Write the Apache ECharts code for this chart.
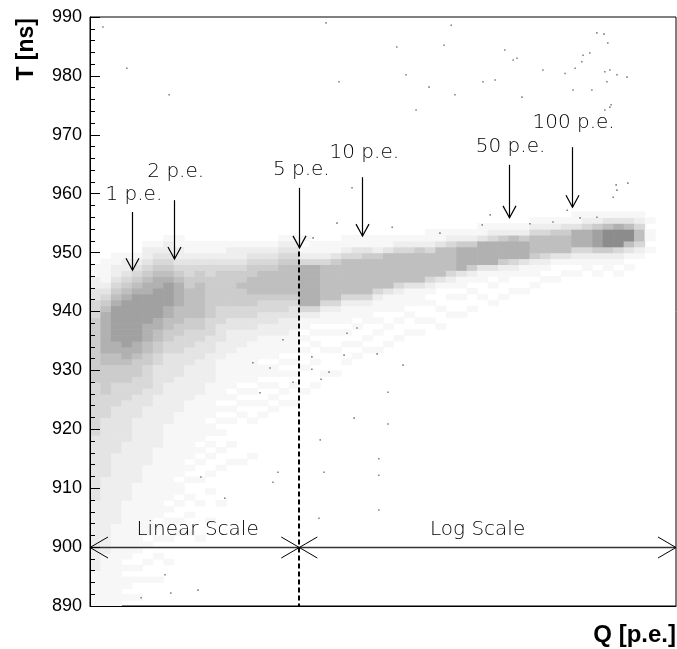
<!DOCTYPE html>
<html><head><meta charset="utf-8">
<script src="https://cdn.jsdelivr.net/npm/echarts@6/dist/echarts.min.js"></script>
<style>html,body{margin:0;padding:0;background:#fff}#c{width:677px;height:649px}</style>
</head><body><div id="c"></div>
<script>
// ---------------- data ----------------
var T_MIN = 890, T_MAX = 990, T_STEP = 10;          // T [ns]
var U_MAX = 14;      // display position: Q linear 0..5, then 5 units per decade
var COL_W = 0.25;    // width of one density column (display units)

// 2D density: one entry per column, [first T (ns), digits]
// each digit = relative dot density (0..9) in a 1-ns cell, going upward from first T
var DENSITY_COLS = [
  [890, "11111"+"1222222222"+"2223333333"+"3333444444"+"4445555555"+"5555444"+"332211"],
  [890, "1111111112"+"2222222222"+"2233333333"+"3344445555"+"5667777777"+"654321"+"1110"],
  [890, "1111111111"+"1111222222"+"2222223333"+"3333444455"+"5667788888"+"876543"+"2211"],
  [890, "0101101011"+"1111111122"+"2222222233"+"3333344455"+"5677888888"+"887654"+"3221"],
  [890, "0100101001"+"1111111111"+"1222222222"+"2233334445"+"5567788888"+"888765"+"4321"],
  [890, "0000100100"+"1011111111"+"1111222222"+"2222333444"+"4556677788"+"888776"+"5432"+"21"],
  [890, "0000100010"+"0101011111"+"1111111222"+"2222223333"+"3445566778"+"888877"+"6543"+"21"],
  [890, "0000000100"+"0100101011"+"1111111111"+"1222222233"+"3334455667"+"788887"+"6543"+"221"],
  [890, "0000000000"+"0010100101"+"1011111111"+"1112222223"+"3334445566"+"677776"+"5432"+"211"],
  [890, "0000000000"+"0010010010"+"0101011111"+"1111122222"+"2333444556"+"666655"+"4432"+"11"],
  [890, "0000000000"+"0100000100"+"0100101011"+"1111112222"+"2233344556"+"666665"+"5432"+"11"],
  [890, "0000000000"+"0000100001"+"0010010101"+"1011111122"+"2223334445"+"555555"+"4432"+"11"],
  [890, "0000000000"+"0000000100"+"0001001001"+"0101011111"+"1122233344"+"455555"+"5432"+"11"],
  [890, "0000000000"+"0000000000"+"0000100100"+"0101010111"+"1112222334"+"455555"+"5432"+"21"],
  [890, "0000000000"+"0000000000"+"0000100000"+"0010101011"+"1111222334"+"455565"+"5432"+"21"],
  [890, "0000000000"+"0000000000"+"0000010000"+"0100101011"+"1111122334"+"455666"+"5543"+"21"],
  [890, "0000000000"+"0000000000"+"0000000000"+"0010100101"+"1011112233"+"445666"+"6543"+"21"],
  [890, "0000000000"+"0000000000"+"0000000000"+"0001010101"+"1011112233"+"445666"+"6543"+"21"],
  [890, "0000000000"+"0000000000"+"0000000000"+"0000101001"+"0101112223"+"445666"+"6654"+"321"],
  [890, "0000000000"+"0000000000"+"0000000000"+"0000100101"+"0101111223"+"345666"+"6654"+"321"],
  [925, "0100010010101"+"124"+"7777777"+"42101"],
  [926, "010001001010"+"124"+"7777777"+"4211"],
  [927, "001000100101"+"124"+"666666"+"4211"],
  [928, "01000100101"+"124"+"666666"+"5311"],
  [930, "0100101011"+"124"+"666666"+"4211"],
  [930, "0010100101"+"124"+"666666"+"4311"],
  [930, "0001010011"+"124"+"666666"+"5311"],
  [932, "010010101"+"124"+"66666"+"5211"],
  [932, "001001001"+"113"+"666666"+"311"],
  [934, "01001011"+"124"+"66666"+"421"],
  [934, "00100101"+"113"+"66666"+"421"],
  [935, "0101001"+"113"+"66666"+"521"],
  [936, "0010010"+"124"+"6666"+"4211"],
  [936, "0100100"+"013"+"66666"+"311"],
  [937, "0010010"+"124"+"6666"+"421"],
  [938, "0100101"+"13"+"7777"+"521"],
  [939, "010010"+"125"+"777"+"521"],
  [940, "001001"+"13"+"7777"+"311"],
  [940, "010010"+"13"+"7777"+"421"],
  [941, "01001"+"125"+"777"+"521"],
  [941, "00100"+"124"+"777"+"621"],
  [942, "01001"+"13"+"777"+"521"],
  [943, "0101"+"125"+"666"+"421"],
  [943, "0010"+"124"+"666"+"421"],
  [944, "0100"+"13"+"666"+"521"],
  [944, "0010"+"13"+"666"+"531"],
  [945, "010"+"124"+"777"+"311"],
  [945, "001"+"124"+"777"+"421"],
  [945, "010"+"125"+"888"+"521"],
  [945, "001"+"125"+"999"+"631"],
  [945, "010"+"124"+"999"+"731"],
  [946, "010"+"136"+"99"+"631"],
  [946, "000"+"124"+"66"+"421"],
  [949, "0101101"]
];

// isolated dots: [display position, T]
var OUTLIERS = [
  [12.11,987.3],[12.28,987.1],[12.37,985.6],[11.94,983.9],[11.78,983.5],[12.42,981.0],[12.30,980.7],
  [12.59,980.2],[12.35,979.0],[12.83,979.8],[11.75,982.4],[10.11,982.7],[9.91,984.4],[10.82,981.0],
  [11.35,980.4],[11.59,981.3],[9.68,979.3],[10.32,976.4],[11.54,977.6],[11.99,977.6],[9.39,979.0],
  [12.42,974.7],[12.30,974.2],[12.45,975.1],[5.64,989.0],[8.63,988.6],[7.33,984.9],[8.46,985.2],
  [10.20,983.0],[5.95,979.0],[8.10,978.1],[7.55,980.2],[1.89,976.8],[0.88,981.3],[8.72,976.8],
  [7.79,974.2],[0.31,988.3],
  [12.59,960.6],[12.85,961.8],[12.50,959.4],[12.57,961.5],[11.71,955.9],[6.26,961.0],[9.56,956.4],
  [10.51,954.9],[11.06,955.2],[11.40,957.2],[12.11,956.0],[9.37,954.7],[5.90,955.0],[7.22,954.3],
  [5.33,952.5],[8.36,953.3],
  [7.48,930.9],[5.71,929.7],[5.52,928.5],[6.31,921.9],[7.12,926.3],[7.12,920.9],[6.90,915.0],
  [6.90,912.2],[6.90,906.3],[5.47,904.9],[5.59,912.7],[5.50,918.2],[5.30,932.3],[5.30,930.2],
  [6.86,932.8],[6.07,932.6],[6.14,936.3],[6.38,937.2],[4.30,930.4],[4.06,926.2],[3.89,931.3],
  [4.61,935.2],[4.85,928.0],[4.49,912.7],[4.37,911.0],[3.22,908.3],[2.65,911.9],
  [1.79,895.3],[1.93,892.2],[2.58,892.7],[1.22,891.4]
];

// annotations
var ARROW_Q       = [1, 2, 5, 10, 50, 100];
var ARROW_LABELS  = ["1 p.e.", "2 p.e.", "5 p.e.", "10 p.e.", "50 p.e.", "100 p.e."];
var ARROW_TOP_T   = [956.9, 958.9, 961.0, 962.8, 964.9, 967.9];
var ARROW_TIP_T   = [947.0, 948.9, 950.8, 952.8, 955.9, 957.7];
var ARROW_LABEL_T = [959.8, 963.7, 964.0, 966.9, 967.9, 972.0];
var SCALE_SPANS   = [[0, 5], [5, 14]];          // display units
var SCALE_LABELS  = ["Linear Scale", "Log Scale"];
var SCALE_LABEL_U = [2.57, 9.26];
var SCALE_T = 900, SCALE_LABEL_T = 902.9;
var DIVIDER_Q = 5, DIVIDER_TOP_T = 950.2;

// ---------------- helpers ----------------
function qToU(q) { return q <= 5 ? q : 5 + 5 * Math.log10(q / 5); }
var GREY = [255, 247, 238, 228, 216, 204, 191, 177, 161, 140];
var FONT_ANN = '200 20px "DejaVu Sans"';

var cells = [];
DENSITY_COLS.forEach(function (c, i) {
  var s = c[1];
  for (var k = 0; k < s.length; k++) {
    var d = +s.charAt(k);
    if (d > 0) cells.push([i * COL_W, c[0] + k, d]);
  }
});

var chart = echarts.init(document.getElementById('c'), null, {renderer: 'canvas'});
chart.setOption({
  animation: false,
  backgroundColor: '#fff',
  grid: {left: 90, right: 1, top: 17, bottom: 43, show: true, borderColor: '#000', borderWidth: 1},
  xAxis: {type: 'value', min: 0, max: U_MAX, z: 10,
    axisLine: {lineStyle: {color: '#000', width: 1}}, axisTick: {show: false},
    axisLabel: {show: false}, splitLine: {show: false}},
  yAxis: {type: 'value', min: T_MIN, max: T_MAX, interval: T_STEP, z: 10,
    axisLine: {lineStyle: {color: '#000', width: 1}},
    axisTick: {inside: true, length: 10, lineStyle: {color: '#000'}},
    minorTick: {show: true, splitNumber: 5, length: 5, lineStyle: {color: '#000'}},
    axisLabel: {color: '#000', fontFamily: '"Liberation Sans", Arial, sans-serif', fontSize: 18, margin: 8},
    splitLine: {show: false}},
  graphic: [
    {type: 'text', x: 27, y: 18, rotation: Math.PI / 2,
      style: {text: 'T [ns]', fill: '#000', font: 'bold 23px "Liberation Sans", Arial, sans-serif', align: 'right', verticalAlign: 'middle'}},
    {type: 'text', x: 676, y: 635,
      style: {text: 'Q [p.e.]', fill: '#000', font: 'bold 24px "Liberation Sans", Arial, sans-serif', align: 'right', verticalAlign: 'middle'}}
  ],
  series: [
    {type: 'custom', name: 'density', data: cells, encode: {x: 0, y: 1}, z: 2,
      renderItem: function (params, api) {
        var u = api.value(0), t = api.value(1), d = api.value(2);
        var p0 = api.coord([u, t + 1]), p1 = api.coord([u + COL_W, t]);
        var g = GREY[d];
        return {type: 'rect', shape: {x: p0[0], y: p0[1], width: p1[0] - p0[0] + 0.6, height: p1[1] - p0[1] + 0.6},
          style: {fill: 'rgb(' + g + ',' + g + ',' + g + ')'}};
      }},
    {type: 'scatter', name: 'outliers', data: OUTLIERS, symbol: 'rect', symbolSize: 1.6, z: 3,
      itemStyle: {color: '#666'}},
    {type: 'custom', name: 'arrows', z: 5, encode: {x: 0, y: 1},
      data: ARROW_Q.map(function (q, i) { return [qToU(q), ARROW_TOP_T[i], ARROW_TIP_T[i], ARROW_LABEL_T[i]]; }),
      renderItem: function (params, api) {
        var i = params.dataIndex, u = api.value(0);
        var top = api.coord([u, api.value(1)]), tip = api.coord([u, api.value(2)]), lab = api.coord([u, api.value(3)]);
        var x = Math.round(tip[0]) + 0.5;
        return {type: 'group', children: [
          {type: 'line', shape: {x1: x, y1: top[1], x2: x, y2: tip[1]}, style: {stroke: '#000', lineWidth: 1.2}},
          {type: 'polyline', shape: {points: [[x - 6.5, tip[1] - 12], [x, tip[1]], [x + 6.5, tip[1] - 12]]},
            style: {stroke: '#000', fill: 'none', lineWidth: 1.2}},
          {type: 'text', x: lab[0] + 2, y: lab[1], style: {text: ARROW_LABELS[i], fill: '#000', font: FONT_ANN, align: 'center', verticalAlign: 'middle'}}
        ]};
      }},
    {type: 'custom', name: 'scales', z: 5, encode: {x: 0, y: 1},
      data: SCALE_SPANS.map(function (s, i) { return [s[0], SCALE_T, s[1], SCALE_LABEL_U[i]]; }),
      renderItem: function (params, api) {
        var i = params.dataIndex;
        var a = api.coord([api.value(0), api.value(1)]), b = api.coord([api.value(2), api.value(1)]);
        var lab = api.coord([api.value(3), SCALE_LABEL_T]);
        var y = Math.round(a[1]) + 0.5;
        return {type: 'group', children: [
          {type: 'line', shape: {x1: a[0], y1: y, x2: b[0], y2: y}, style: {stroke: '#333', lineWidth: 1.4}},
          {type: 'polyline', shape: {points: [[a[0] + 18, y - 10.5], [a[0], y], [a[0] + 18, y + 10.5]]}, style: {stroke: '#000', fill: 'none', lineWidth: 1}},
          {type: 'polyline', shape: {points: [[b[0] - 18, y - 10.5], [b[0], y], [b[0] - 18, y + 10.5]]}, style: {stroke: '#000', fill: 'none', lineWidth: 1}},
          {type: 'text', x: lab[0], y: lab[1], style: {text: SCALE_LABELS[i], fill: '#000', font: FONT_ANN, align: 'center', verticalAlign: 'middle'}}
        ]};
      }},
    {type: 'custom', name: 'divider', z: 4, encode: {x: 0, y: 1},
      data: [[qToU(DIVIDER_Q), DIVIDER_TOP_T, T_MIN]],
      renderItem: function (params, api) {
        var a = api.coord([api.value(0), api.value(1)]), b = api.coord([api.value(0), api.value(2)]);
        var x = Math.round(a[0]);
        return {type: 'line', shape: {x1: x, y1: a[1], x2: x, y2: b[1]},
          style: {stroke: '#000', lineWidth: 2, lineDash: [5, 3]}};
      }}
  ]
});
</script></body></html>
